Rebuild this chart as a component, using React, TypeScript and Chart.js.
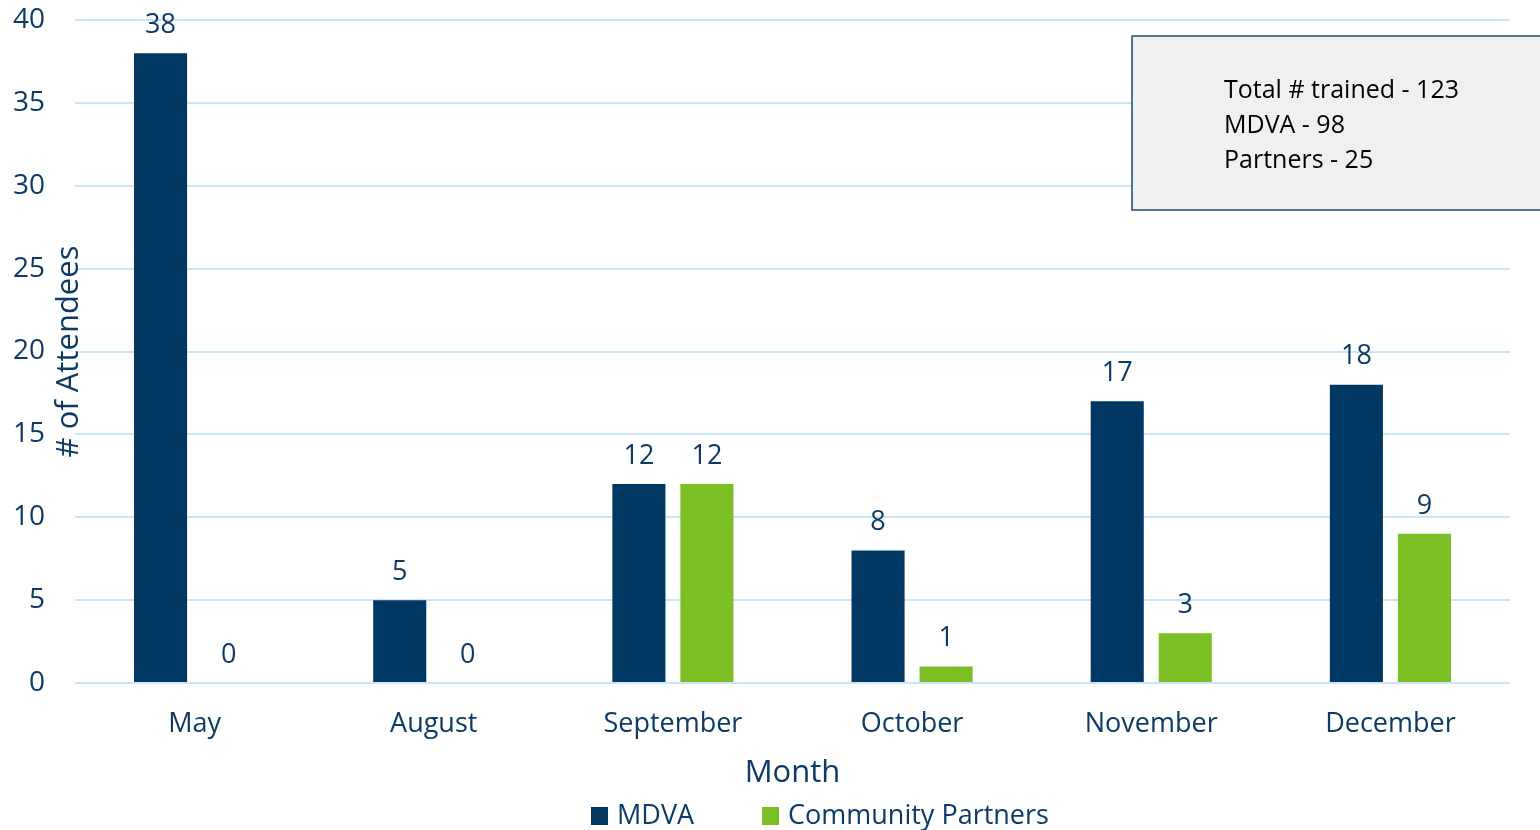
import React, { useEffect, useRef } from "react";
import { Chart, registerables } from "chart.js";

Chart.register(...registerables);

const months = ["May", "August", "September", "October", "November", "December"];
const mdvaValues = [38, 5, 12, 8, 17, 18];
const partnerValues = [0, 0, 12, 1, 3, 9];
const seriesNames = ["MDVA", "Community Partners"];
const seriesColors = ["#003763", "#7BBF24"];
const yMin = 0;
const yMax = 40;
const yStep = 5;
const xTitle = "Month";
const yTitle = "# of Attendees";
const summaryLines = ["Total # trained - 123", "MDVA - 98", "Partners - 25"];

const FONT = "'Open Sans', sans-serif";
const NAVY_TEXT = "#0E3A66";
const GRID = "#CBE5F8";

const overlayPlugin = {
  id: "overlay",
  afterDraw(chart: any) {
    const ctx = chart.ctx as CanvasRenderingContext2D;
    ctx.save();
    // data labels
    ctx.font = `27px ${FONT}`;
    ctx.fillStyle = NAVY_TEXT;
    ctx.textAlign = "center";
    ctx.textBaseline = "middle";
    chart.data.datasets.forEach((ds: any, di: number) => {
      const meta = chart.getDatasetMeta(di);
      meta.data.forEach((bar: any, i: number) => {
        ctx.fillText(String(ds.data[i]), bar.x, bar.y - 28);
      });
    });

    // summary box
    const bx = 1132, by = 36, bw = 420, bh = 174;
    ctx.fillStyle = "#F0F0F0";
    ctx.fillRect(bx, by, bw, bh);
    ctx.strokeStyle = "#1F4A73";
    ctx.lineWidth = 1.5;
    ctx.strokeRect(bx, by, bw, bh);
    ctx.fillStyle = "#000000";
    ctx.font = `25px ${FONT}`;
    ctx.textAlign = "left";
    ctx.textBaseline = "alphabetic";
    summaryLines.forEach((t, i) => {
      ctx.fillText(t, 1224, 98 + i * 35);
    });

    // legend
    ctx.font = `27px ${FONT}`;
    ctx.textBaseline = "middle";
    let x = 591;
    const yC = 816;
    chart.data.datasets.forEach((ds: any) => {
      ctx.fillStyle = ds.backgroundColor;
      ctx.fillRect(x, yC - 9, 17, 18);
      ctx.fillStyle = NAVY_TEXT;
      ctx.fillText(ds.label, x + 26, yC);
      x += 26 + ctx.measureText(ds.label).width + 68;
    });
    ctx.restore();
  },
};

export default function App() {
  const canvasRef = useRef<HTMLCanvasElement | null>(null);

  useEffect(() => {
    document.body.style.margin = "0";
    document.body.style.overflow = "hidden";
    const canvas = canvasRef.current;
    if (!canvas) return;
    const chart = new Chart(canvas, {
      type: "bar",
      data: {
        labels: months,
        datasets: [
          {
            label: seriesNames[0],
            data: mdvaValues,
            backgroundColor: seriesColors[0],
            categoryPercentage: 0.569,
            barPercentage: 0.78,
          },
          {
            label: seriesNames[1],
            data: partnerValues,
            backgroundColor: seriesColors[1],
            categoryPercentage: 0.569,
            barPercentage: 0.78,
          },
        ],
      },
      options: {
        responsive: false,
        animation: false,
        layout: { padding: { top: 20, right: 30, left: 0, bottom: 0 } },
        plugins: {
          legend: { display: false },
          tooltip: { enabled: false },
        },
        scales: {
          x: {
            grid: { display: false, drawTicks: false },
            border: { display: false },
            ticks: {
              color: NAVY_TEXT,
              font: { family: FONT, size: 27 },
              padding: 25,
              autoSkip: false,
              maxRotation: 0,
            },
            title: {
              display: true,
              text: xTitle,
              color: NAVY_TEXT,
              font: { family: FONT, size: 31 },
              padding: { top: 0, bottom: 38 },
            },
            afterFit(scale: any) {
              scale.height = 147;
            },
          },
          y: {
            min: yMin,
            max: yMax,
            grid: {
              color: GRID,
              lineWidth: 2,
              drawTicks: true,
              tickLength: 30,
              tickColor: "rgba(0,0,0,0)",
            },
            border: { display: false },
            ticks: {
              stepSize: yStep,
              color: NAVY_TEXT,
              font: { family: FONT, size: 28 },
              padding: 0,
            },
            title: {
              display: true,
              text: yTitle,
              color: NAVY_TEXT,
              font: { family: FONT, size: 31 },
              padding: { top: 51, bottom: 0 },
            },
            afterFit(scale: any) {
              scale.width = 75;
            },
          },
        },
      },
      plugins: [overlayPlugin],
    });
    return () => chart.destroy();
  }, []);

  return (
    <div style={{ width: 1540, height: 830 }}>
      <canvas ref={canvasRef} width={1540} height={830} style={{ display: "block" }} />
    </div>
  );
}
